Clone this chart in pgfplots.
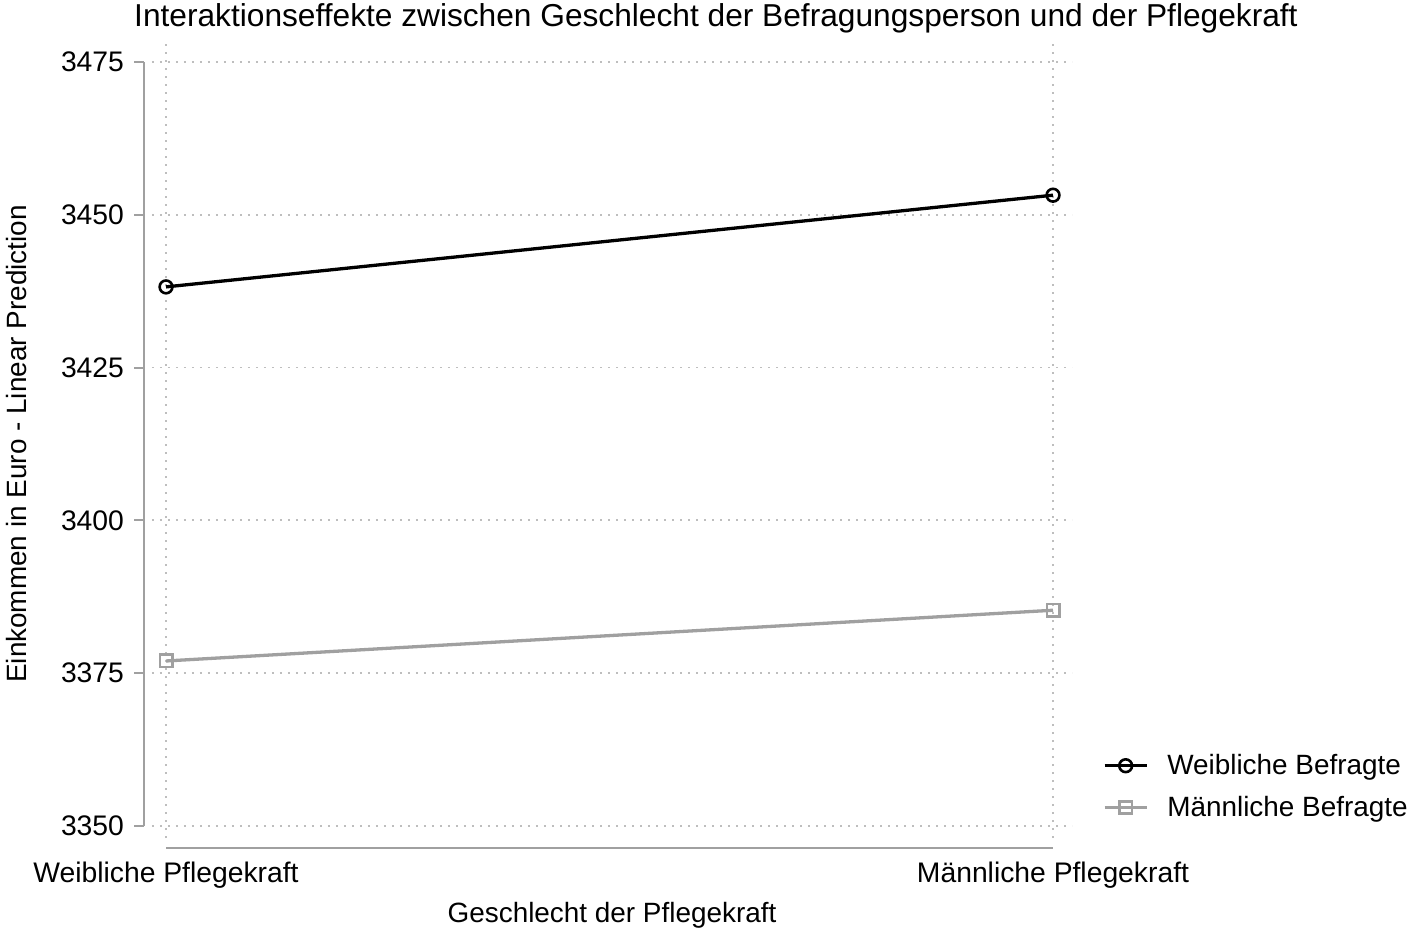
\documentclass[border=0pt]{standalone}
\usepackage{pgfplots}
\pgfplotsset{compat=1.18}
\usepackage{fontspec}
\setmainfont{Liberation Sans}
\definecolor{axgray}{RGB}{160,160,160}
\definecolor{mgray}{RGB}{160,160,160}
\definecolor{gridgray}{RGB}{190,190,190}
\begin{document}
\begin{tikzpicture}
\begin{axis}[
  name=ax,
  scale only axis,
  width=460bp, height=397.5bp,
  xmin=-0.0158, xmax=1.0214, ymin=3348.04, ymax=3478.1,
  clip=false,
  axis line style={draw=none},
  tick style={draw=none},
  xtick={0,1},
  xticklabels={Weibliche Pflegekraft, Männliche Pflegekraft},
  ytick={3350,3375,3400,3425,3450,3475},
  /pgf/number format/assume math mode=true,
  yticklabel={\pgfmathprintnumber[fixed,1000 sep={}]{\tick}},
  grid=major,
  major grid style={gridgray, line width=0.9bp, dash pattern=on 0.9bp off 3.1bp},
  font=\fontsize{14}{16.8}\selectfont,
  ticklabel style={font=\fontsize{14.2}{17}\selectfont},
  xticklabel style={anchor=base, yshift=-22bp},
  yticklabel style={anchor=east, xshift=-10.5bp},
  xlabel={Geschlecht der Pflegekraft},
  xlabel style={at={(axis description cs:0.5,0)}, anchor=base, yshift=-42bp},
  ylabel={Einkommen in Euro - Linear Prediction},
  ylabel style={at={(axis description cs:0,0.4956)}, anchor=center, yshift=67.5bp},
  title={Interaktionseffekte zwischen Geschlecht der Befragungsperson und der Pflegekraft},
  title style={at={(axis description cs:0.613,1)}, anchor=base, yshift=2.5bp, font=\fontsize{15.9}{19}\selectfont},
  legend style={at={(axis description cs:1.0337,0.1105)}, anchor=north west, draw=none, fill=none,
    inner sep=0pt, outer sep=0pt, row sep=5.3bp, column sep=7.5bp, font=\fontsize{14}{16.8}\selectfont,
    legend cell align=left},
  legend image code/.code={\draw[mark repeat=2,mark phase=2,#1] plot coordinates {(0bp,0bp) (10.5bp,0bp) (21bp,0bp)};},
]
\addplot[black, line width=1.65bp, mark=o, mark size=3.2bp, mark options={line width=1.3bp, fill=white}]
  coordinates {(0,3438.2) (1,3453.2)};
\addlegendentry{Weibliche Befragte}
\addplot[mgray, line width=1.65bp, mark=square, mark size=3.1bp, mark options={line width=1.3bp, fill=white}]
  coordinates {(0,3377.0) (1,3385.3)};
\addlegendentry{Männliche Befragte}
% axis lines
\draw[axgray, line width=1bp] (axis cs:-0.0248,3350) -- (axis cs:-0.0248,3475);
\draw[axgray, line width=1bp] (axis cs:-0.0248,3350) -- ++(-5bp,0bp);
\draw[axgray, line width=1bp] (axis cs:-0.0248,3375) -- ++(-5bp,0bp);
\draw[axgray, line width=1bp] (axis cs:-0.0248,3400) -- ++(-5bp,0bp);
\draw[axgray, line width=1bp] (axis cs:-0.0248,3425) -- ++(-5bp,0bp);
\draw[axgray, line width=1bp] (axis cs:-0.0248,3450) -- ++(-5bp,0bp);
\draw[axgray, line width=1bp] (axis cs:-0.0248,3475) -- ++(-5bp,0bp);
\draw[axgray, line width=1bp] (axis cs:0,3346.4) -- (axis cs:1,3346.4);
\end{axis}
\pgfresetboundingbox
\path[use as bounding box] ([shift={(-76bp,-45.5bp)}]ax.south west) rectangle ([shift={(632.5bp,419bp)}]ax.south west);
\end{tikzpicture}
\end{document}
